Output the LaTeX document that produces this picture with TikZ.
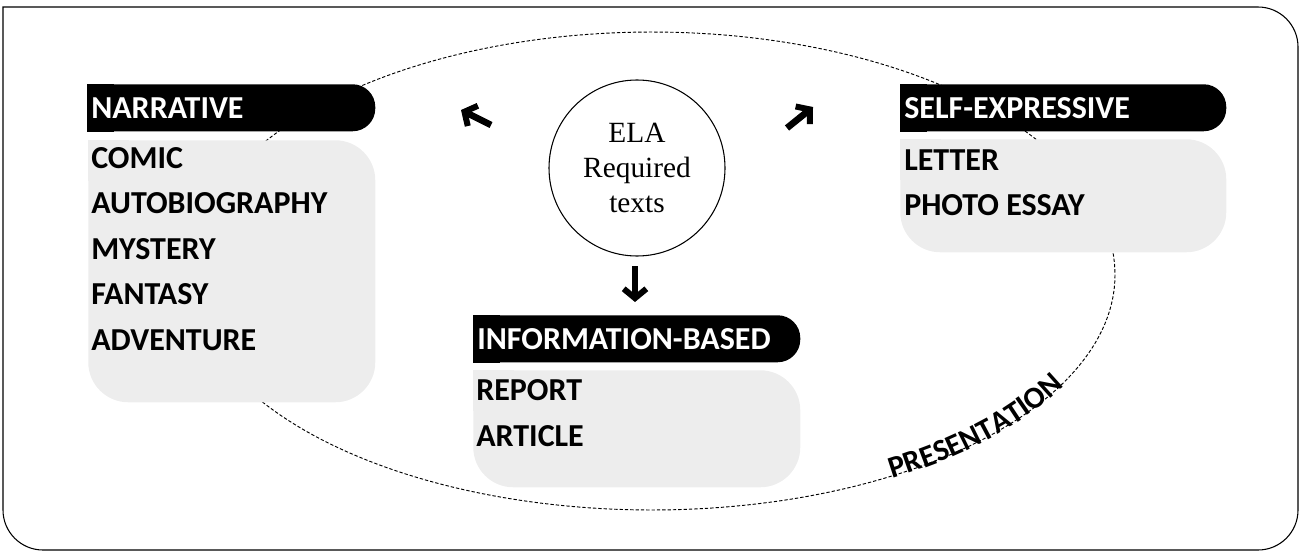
\documentclass[tikz,border=0pt]{standalone}
\usepackage{fontspec}
\setmainfont{Liberation Serif}
\setsansfont{Carlito}
\usepackage{xcolor}
\usepackage{tikz}
\usetikzlibrary{positioning}
\usetikzlibrary{backgrounds}
\usetikzlibrary{decorations.text}
\usetikzlibrary{arrows.meta}
\definecolor{listgray}{RGB}{237,237,237}
\tikzset{>=stealth}

\begin{document}
\begin{tikzpicture}[x=0.75pt,y=-0.75pt,
      headbox/.style={anchor=north west,
      fill=black,
      rounded corners=17pt,
      minimum height=35.25pt,
      inner xsep=3pt,
      align=left,
      text=white,
      font=\sffamily\bfseries\fontsize{24}{24}\selectfont},
      listbox/.style={anchor=north west,
      fill=listgray,
      rounded corners=30pt,
      inner sep=0pt},
      item/.style={anchor=base west,
      inner sep=0pt,
      font=\sffamily\bfseries\fontsize{24}{24}\selectfont},
      bigarrow/.style={line width=5pt, -{Straight Barb[length=7pt,width=17pt,line width=4.5pt]}}]
    \useasboundingbox (0,0) rectangle (1302,553);
    %% frame
    \draw [line width=0.8pt] (3,280) -- (3,7) [rounded corners=30pt] -- (1298,7) -- (1298,550) -- (3,550) -- cycle;
    %% Centre
    \node [circle, draw, line width=0.8pt, minimum size=132pt, inner sep=0pt, align=center,
      font=\fontsize{22}{26}\selectfont] at (637,168) (ela) {ELA\\Required\\texts};
    %% Narrative
    \node [headbox, text width=210pt] at (87,84) (nar) {NARRATIVE};
    \node [listbox, minimum width=215.25pt, minimum height=196.5pt] at (88,140) (narlist) {};
    \foreach \t [count=\i] in {COMIC,AUTOBIOGRAPHY,MYSTERY,FANTASY,ADVENTURE}
      \node [item] at (91,{168+(\i-1)*45.5}) (nar-\i) {\t};
    %% Self-expressive
    \node [headbox, text width=238.5pt] at (900,84) (self) {SELF-EXPRESSIVE};
    \node [listbox, minimum width=244.5pt, minimum height=84.75pt] at (900,139) (selflist) {};
    \foreach \t [count=\i] in {LETTER,PHOTO ESSAY}
      \node [item] at (904,{170+(\i-1)*45}) (self-\i) {\t};
    %% Information-based
    \node [headbox, text width=239.25pt] at (473,315) (info) {INFORMATION-BASED};
    \node [listbox, minimum width=245.25pt, minimum height=87.75pt] at (473,370) (infolist) {};
    \foreach \t [count=\i] in {REPORT,ARTICLE}
      \node [item] at (476,{400+(\i-1)*46}) (info-\i) {\t};
    %% Arrows
    \coordinate (nartail) at (491,125);
    \coordinate (narhead) at (461,110);
    \coordinate (selftail) at (787,128);
    \coordinate (selfhead) at (813,107);
    \coordinate (infotail) at (635,266);
    \coordinate (infohead) at (635,302);
    \draw [bigarrow] (nartail) -- (narhead);
    \draw [bigarrow] (selftail) -- (selfhead);
    \draw [bigarrow] (infotail) -- (infohead);
    %% Presentation loop
    \begin{scope}[on background layer]
      \draw [line width=0.7pt, dash pattern=on 2.5pt off 1.5pt]
        plot [domain=0:360, samples=240] ({652+463*cos(\x)},{275+(\x<180?235:243)*sin(\x)}) -- cycle;
      \fill [black] (nar.north west) rectangle ([xshift=20pt]nar.south west);
      \fill [black] (self.north west) rectangle ([xshift=20pt]self.south west);
      \fill [black] (info.north west) rectangle ([xshift=20pt]info.south west);
      \fill [listgray] (narlist.north west) rectangle ([xshift=31pt,yshift=-31pt]narlist.north west);
      \fill [listgray] (selflist.north west) rectangle ([xshift=31pt,yshift=-31pt]selflist.north west);
      \fill [listgray] (infolist.north west) rectangle ([xshift=31pt,yshift=-31pt]infolist.north west);
    \end{scope}
    \path [decorate, decoration={text along path, text align=center, raise=-2pt,
      text={|\sffamily\bfseries\fontsize{23}{23}\selectfont|PRESENTATION}}]
      plot [domain=64:20, samples=60] ({652+463*cos(\x)},{275+235*sin(\x)});
  \end{tikzpicture}
\end{document}
